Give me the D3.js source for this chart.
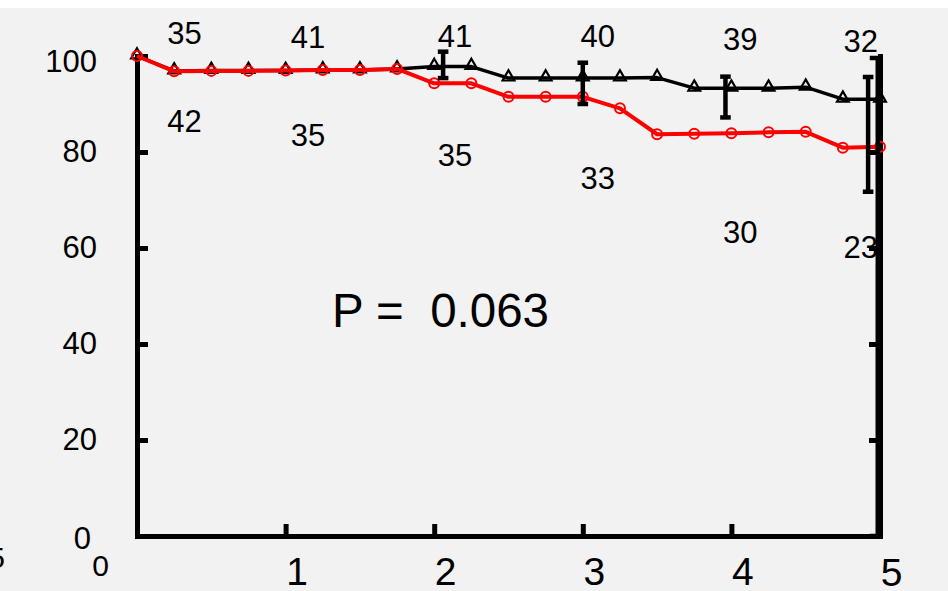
<!DOCTYPE html>
<html>
<head>
<meta charset="utf-8">
<script src="https://cdn.jsdelivr.net/npm/d3@7/dist/d3.min.js"></script>
<style>
  html, body { margin: 0; padding: 0; background: #ffffff; }
  svg { display: block; }
  text { font-family: "Liberation Sans", Arial, sans-serif; fill: #000; }
</style>
</head>
<body>
<svg id="chart" width="948" height="591"></svg>
<script>
// ---- data ----
const times = [0, 0.25, 0.5, 0.75, 1, 1.25, 1.5, 1.75, 2, 2.25, 2.5, 2.75, 3, 3.25, 3.5, 3.75, 4, 4.25, 4.5, 4.75, 5];
const blackSurv = [100, 96.9, 97.0, 97.0, 97.0, 97.1, 97.1, 97.3, 97.8, 97.8, 95.4, 95.4, 95.4, 95.4, 95.5, 93.3, 93.3, 93.3, 93.5, 91.0, 91.0];
const redSurv   = [100, 96.8, 96.9, 96.9, 97.0, 97.1, 97.1, 97.3, 94.3, 94.3, 91.5, 91.5, 91.5, 89.1, 83.7, 83.8, 83.9, 84.1, 84.2, 80.9, 81.1];

const errTimes = [2.06, 3.0, 3.96, 4.92, 4.985];
const errHigh  = [100.9, 98.6, 95.7, 95.6, 99.6];
const errLow   = [95.4, 90.0, 87.2, 71.7, 0];

const riskTimes = [0.32, 1.15, 2.14, 3.1, 4.06, 4.87];
const riskBlack = [35, 41, 41, 40, 39, 32];
const riskRed   = [42, 35, 35, 33, 30, 23];
const riskBlackAt = [104.8, 104.0, 104.2, 104.2, 103.5, 103.1];
const riskRedAt   = [86.5, 83.5, 79.4, 74.7, 63.4, 60.2];

const yTicks = [0, 20, 40, 60, 80, 100];
const xTicks = [0, 1, 2, 3, 4, 5];
const pText = "P =  0.063";

// ---- layout ----
const svg = d3.select("#chart");
const W = 948, H = 591;
svg.append("rect").attr("x", 0).attr("y", 8).attr("width", W).attr("height", H - 8).attr("fill", "#f2f2f2");

const x = d3.scaleLinear().domain([0, 5]).range([137, 880]);
const y = d3.scaleLinear().domain([0, 100]).range([536, 56]);

const defs = svg.append("defs");
defs.append("clipPath").attr("id", "plotclip")
  .append("rect").attr("x", 0).attr("y", 0).attr("width", 882.5).attr("height", H);

const axisW = 5;
const fontFam = "Liberation Sans, Arial, sans-serif";

// Left axis
const yAxis = d3.axisLeft(y).tickValues(yTicks).tickSizeInner(-11).tickSizeOuter(0).tickPadding(40);
const gy = svg.append("g").attr("transform", `translate(${x(0)},0)`).call(yAxis);
gy.select(".domain").attr("stroke", "#000").attr("stroke-width", axisW).attr("stroke-linecap", "square");
gy.selectAll(".tick line").attr("stroke", "#000").attr("stroke-width", axisW);
gy.selectAll(".tick text").style("font-size", "31px").attr("fill", "#000").style("font-family", fontFam);
gy.selectAll(".tick").filter(d => d === 100).select("text").attr("dy", "0.5em");
gy.selectAll(".tick").filter(d => d === 0).select("text").attr("dx", "-6").attr("dy", "0.4em");

// Right axis (frame)
const yAxisR = d3.axisRight(y).tickValues([20, 40, 60, 80]).tickSizeInner(-11).tickSizeOuter(0).tickFormat("");
const gyr = svg.append("g").attr("transform", `translate(${x(5)},0)`).call(yAxisR);
gyr.select(".domain").attr("stroke", "#000").attr("stroke-width", axisW).attr("stroke-linecap", "square");
gyr.selectAll(".tick line").attr("stroke", "#000").attr("stroke-width", axisW);

// Bottom axis
const xAxis = d3.axisBottom(x).tickValues(xTicks).tickSizeInner(-12).tickSizeOuter(0).tickPadding(21).tickFormat(d3.format("d"));
const gx = svg.append("g").attr("transform", `translate(0,${y(0)})`).call(xAxis);
gx.select(".domain").attr("stroke", "#000").attr("stroke-width", axisW).attr("stroke-linecap", "square");
gx.selectAll(".tick line").attr("stroke", "#000").attr("stroke-width", axisW);
gx.selectAll(".tick text").style("font-size", "39px").attr("fill", "#000").attr("dx", "11").style("font-family", fontFam);
gx.selectAll(".tick").filter(d => d === 0).select("text")
  .style("font-size", "30px").attr("dx", "-37").attr("dy", "0.63em");
gx.selectAll(".tick").filter(d => d === 5).select("text").attr("dy", "0.74em");

// stray clipped glyph at the left edge
svg.append("text").attr("x", 5).attr("y", 568).attr("text-anchor", "end").style("font-size", "30px").text("5");

// ---- series ----
const line = d3.line().x(d => x(d[0])).y(d => y(d[1]));
const blackPts = times.map((t, i) => [t, blackSurv[i]]);
const redPts = times.map((t, i) => [t, redSurv[i]]);

svg.append("path").datum(blackPts).attr("d", line)
  .attr("fill", "none").attr("stroke", "#000").attr("stroke-width", 3.5).attr("stroke-linejoin", "round");
const tri = d3.symbol().type(d3.symbolTriangle).size(60);
svg.append("g").selectAll("path").data(blackPts).join("path")
  .attr("d", tri)
  .attr("transform", d => `translate(${x(d[0])},${y(d[1]) - 1})`)
  .attr("fill", "none").attr("stroke", "#000").attr("stroke-width", 2.2);

svg.append("path").datum(redPts).attr("d", line)
  .attr("fill", "none").attr("stroke", "#ff0000").attr("stroke-width", 4).attr("stroke-linejoin", "round");
svg.append("g").selectAll("circle").data(redPts).join("circle")
  .attr("cx", d => x(d[0])).attr("cy", d => y(d[1])).attr("r", 5)
  .attr("fill", "none").attr("stroke", "#ff0000").attr("stroke-width", 2);

// ---- error bars ----
const eg = svg.append("g").attr("clip-path", "url(#plotclip)");
errTimes.forEach((t, i) => {
  const cx = x(t);
  const capHalf = i === errTimes.length - 1 ? 8 : 5.3;
  eg.append("line").attr("x1", cx).attr("x2", cx).attr("y1", y(errHigh[i])).attr("y2", y(errLow[i]))
    .attr("stroke", "#000").attr("stroke-width", 4.5);
  [errHigh[i], errLow[i]].forEach(v => {
    eg.append("line").attr("x1", cx - capHalf).attr("x2", cx + capHalf).attr("y1", y(v)).attr("y2", y(v))
      .attr("stroke", "#000").attr("stroke-width", 4.5);
  });
});

// ---- numbers at risk ----
const rg = svg.append("g").style("font-size", "31px").attr("text-anchor", "middle");
riskTimes.forEach((t, i) => {
  rg.append("text").attr("x", x(t)).attr("y", y(riskBlackAt[i])).attr("dy", "0.36em").text(riskBlack[i]);
  rg.append("text").attr("x", x(t)).attr("y", y(riskRedAt[i])).attr("dy", "0.36em").text(riskRed[i]);
});

// ---- P value ----
svg.append("text").attr("x", 332).attr("y", 327)
  .style("font-size", "47.5px").style("white-space", "pre").attr("xml:space", "preserve")
  .text(pText);
</script>
</body>
</html>
